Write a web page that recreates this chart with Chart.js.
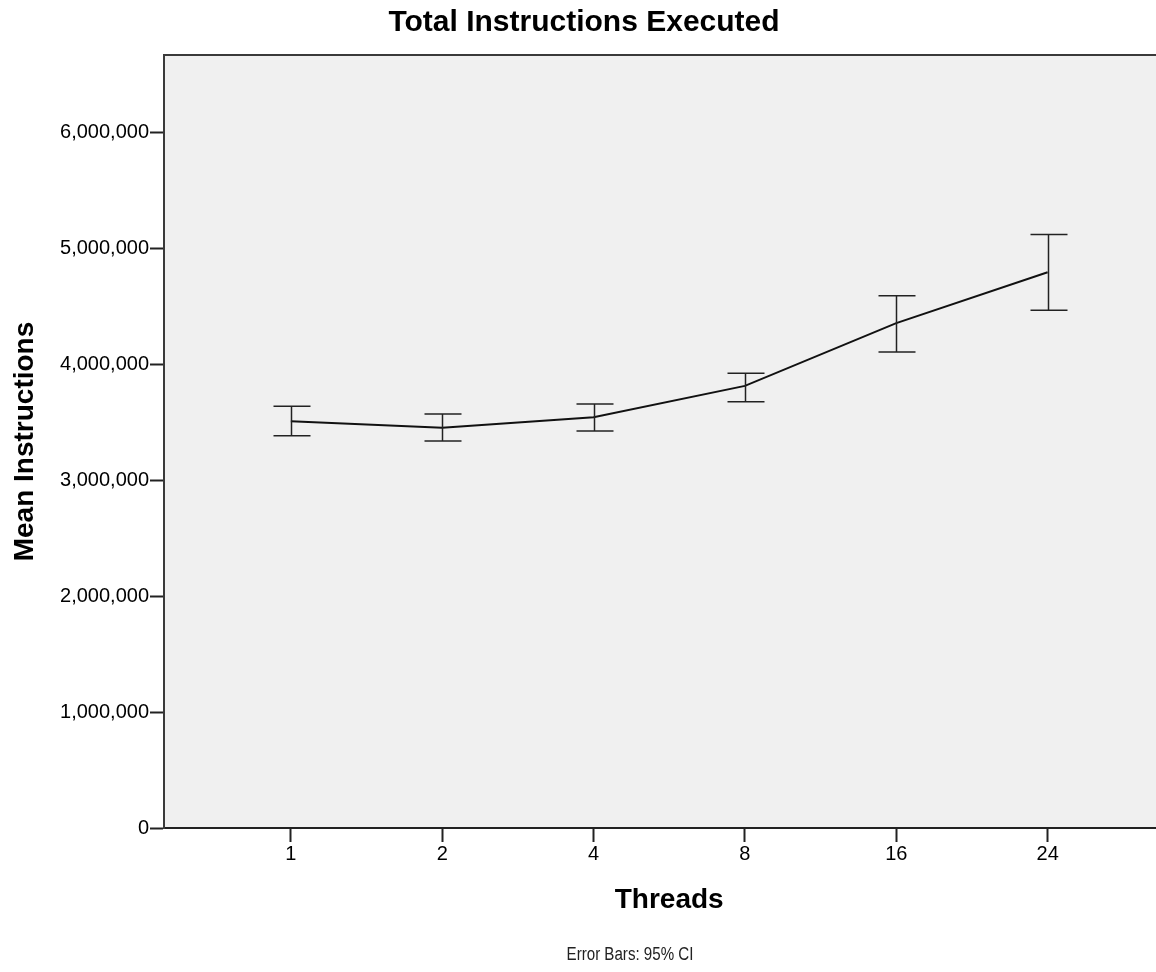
<!DOCTYPE html>
<html>
<head>
<meta charset="utf-8">
<script src="https://cdn.jsdelivr.net/npm/chart.js@4"></script>
<style>
    html, body { margin: 0; padding: 0; background: #fff; }
    #wrap { width: 1156px; height: 972px; }
</style>
</head>
<body>
<div id="wrap"><canvas id="instrChart" width="1156" height="972"></canvas></div>
<script>
// Data
const threads = ['1', '2', '4', '8', '16', '24'];
const meanInstructions = [3510000, 3454000, 3544000, 3815000, 4356000, 4796000];
const ciLower = [3385000, 3339000, 3425000, 3677000, 4108000, 4468000];
const ciUpper = [3640000, 3573000, 3659000, 3924000, 4592000, 5121000];
const yTicks = [0, 1000000, 2000000, 3000000, 4000000, 5000000, 6000000];

const FONT = '"Liberation Sans", Arial, sans-serif';

// Grey plot background + top frame line
const plotFrame = {
    id: 'plotFrame',
    beforeDraw(chart) {
        const { ctx, chartArea: a } = chart;
        ctx.save();
        ctx.fillStyle = '#f0f0f0';
        ctx.fillRect(a.left, a.top, a.right - a.left, a.bottom - a.top);
        ctx.restore();
    },
    afterDraw(chart) {
        const { ctx, chartArea: a } = chart;
        ctx.save();
        ctx.strokeStyle = '#3a3a3a';
        ctx.lineWidth = 2;
        ctx.beginPath();
        ctx.moveTo(a.left - 1, a.top);
        ctx.lineTo(a.right, a.top);
        ctx.stroke();
        ctx.restore();
    }
};

// 95% CI error bars
const errorBars = {
    id: 'errorBars',
    afterDatasetsDraw(chart) {
        const { ctx, scales: { x, y } } = chart;
        ctx.save();
        ctx.strokeStyle = '#222';
        ctx.lineWidth = 1.5;
        threads.forEach((t, i) => {
            const px = Math.round(x.getPixelForValue(i)) + 0.5;
            const lo = y.getPixelForValue(ciLower[i]);
            const hi = y.getPixelForValue(ciUpper[i]);
            ctx.beginPath();
            ctx.moveTo(px, lo);
            ctx.lineTo(px, hi);
            ctx.moveTo(px - 18, hi);
            ctx.lineTo(px + 19, hi);
            ctx.moveTo(px - 18, lo);
            ctx.lineTo(px + 19, lo);
            ctx.stroke();
        });
        ctx.restore();
    }
};

// Titles in SPSS-like positions
const chartTexts = {
    id: 'chartTexts',
    afterDraw(chart) {
        const { ctx, scales: { x } } = chart;
        ctx.save();
        ctx.fillStyle = '#000';
        ctx.textAlign = 'center';
        ctx.textBaseline = 'middle';
        ctx.font = 'bold 30px ' + FONT;
        ctx.fillText('Total Instructions Executed', 584, 23);
        ctx.font = 'bold 28px ' + FONT;
        ctx.fillText('Threads', x.getPixelForValue(2.5), 900);
        // footer uses a condensed face in the original, squeeze it a bit
        ctx.font = '18px ' + FONT;
        ctx.fillStyle = '#222';
        ctx.translate(630, 955);
        ctx.scale(0.84, 1);
        ctx.fillText('Error Bars: 95% CI', 0, 0);
        ctx.restore();
    }
};

const ctx = document.getElementById('instrChart').getContext('2d');
new Chart(ctx, {
    type: 'line',
    data: {
        datasets: [{
            label: 'Mean Instructions',
            data: meanInstructions.map((v, i) => ({ x: i, y: v })),
            borderColor: '#111',
            borderWidth: 2,
            pointRadius: 0,
            tension: 0,
            fill: false
        }]
    },
    options: {
        responsive: false,
        animation: false,
        layout: { padding: { top: 55, right: 0, bottom: 0, left: 0 } },
        plugins: {
            legend: { display: false },
            tooltip: { enabled: false }
        },
        scales: {
            x: {
                type: 'linear',
                min: -0.838,
                max: 5.716,
                afterBuildTicks: scale => { scale.ticks = threads.map((t, i) => ({ value: i })); },
                afterFit: scale => { scale.height = 972 - 828; },
                ticks: {
                    callback: value => threads[value],
                    color: '#000',
                    font: { family: FONT, size: 20 },
                    padding: 0,
                    maxRotation: 0
                },
                grid: { drawOnChartArea: false, drawTicks: true, tickLength: 14, tickColor: '#222', tickWidth: 2 },
                border: { display: true, color: '#222', width: 2 }
            },
            y: {
                type: 'linear',
                min: 0,
                max: 6670000,
                afterBuildTicks: scale => { scale.ticks = yTicks.map(v => ({ value: v })); },
                afterFit: scale => { scale.width = 164; },
                ticks: {
                    callback: value => value.toLocaleString('en-US'),
                    color: '#000',
                    font: { family: FONT, size: 20 },
                    padding: 1
                },
                grid: { drawOnChartArea: false, drawTicks: true, tickLength: 14, tickColor: '#222', tickWidth: 2 },
                border: { display: true, color: '#3a3a3a', width: 2 },
                title: {
                    display: true,
                    text: 'Mean Instructions',
                    color: '#000',
                    font: { family: FONT, size: 28, weight: 'bold' },
                    padding: { top: 8, bottom: 0 }
                }
            }
        }
    },
    plugins: [plotFrame, errorBars, chartTexts]
});
</script>
</body>
</html>
